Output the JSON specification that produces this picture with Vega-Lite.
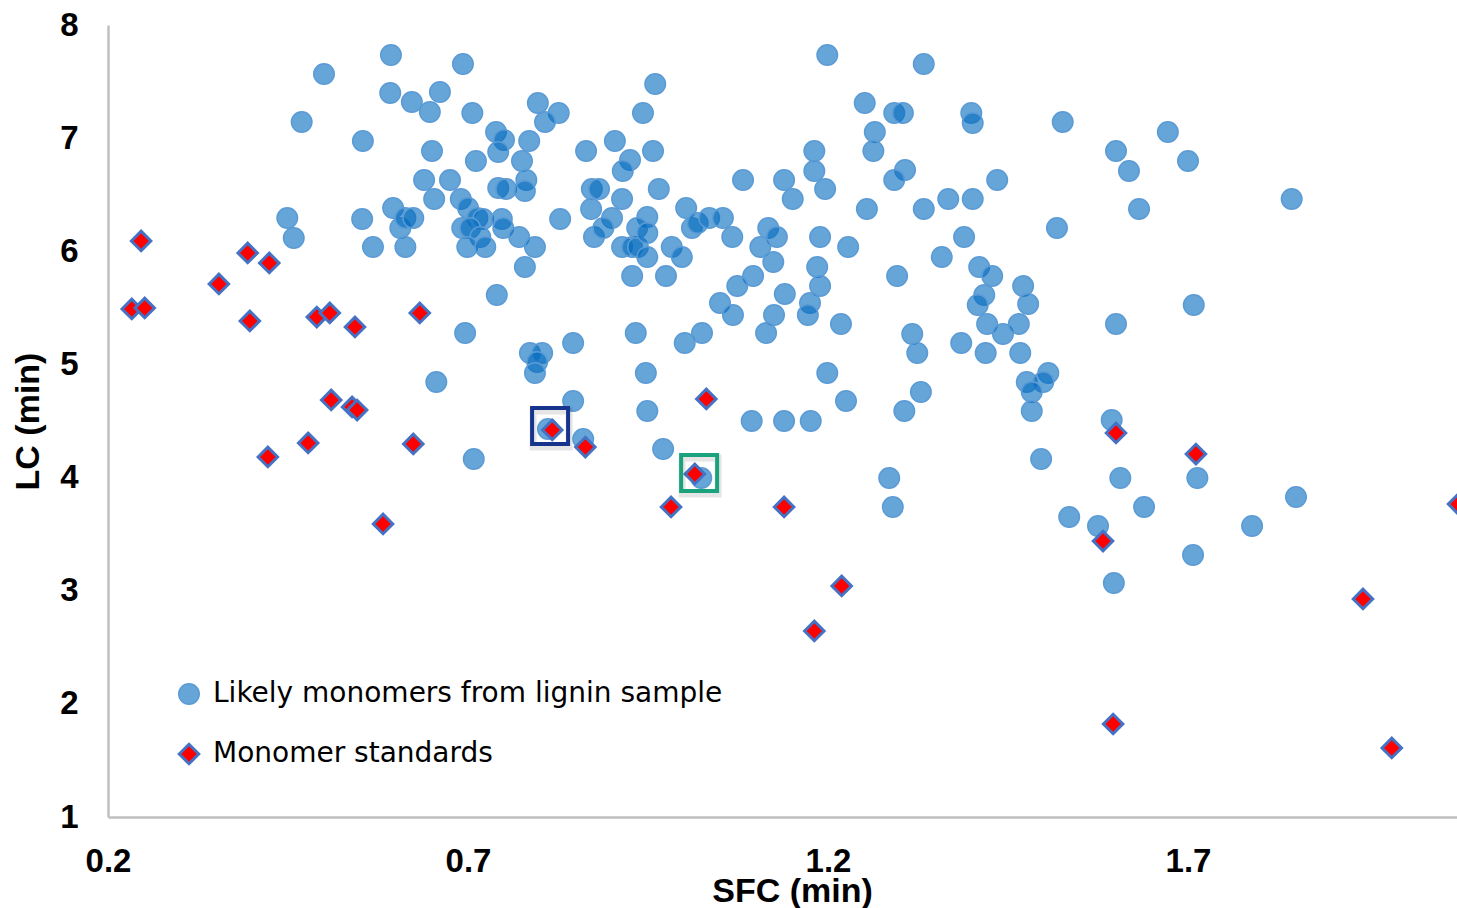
{
  "$schema": "https://vega.github.io/schema/vega-lite/v6.json",
  "width": 1349,
  "height": 792,
  "autosize": {"type": "none"},
  "padding": {"left": 108, "top": 25, "right": 0, "bottom": 91},
  "background": "white",
  "config": {"view": {"stroke": null}, "font": "Liberation Sans"},
  "data": {
    "values": [
      {"SFC":0.593,"LC":7.735,"series":"Likely monomers from lignin sample"},
      {"SFC":0.500,"LC":7.567,"series":"Likely monomers from lignin sample"},
      {"SFC":0.592,"LC":7.399,"series":"Likely monomers from lignin sample"},
      {"SFC":0.622,"LC":7.320,"series":"Likely monomers from lignin sample"},
      {"SFC":0.647,"LC":7.231,"series":"Likely monomers from lignin sample"},
      {"SFC":0.661,"LC":7.408,"series":"Likely monomers from lignin sample"},
      {"SFC":0.469,"LC":7.143,"series":"Likely monomers from lignin sample"},
      {"SFC":0.554,"LC":6.975,"series":"Likely monomers from lignin sample"},
      {"SFC":0.650,"LC":6.887,"series":"Likely monomers from lignin sample"},
      {"SFC":0.639,"LC":6.630,"series":"Likely monomers from lignin sample"},
      {"SFC":0.675,"LC":6.630,"series":"Likely monomers from lignin sample"},
      {"SFC":0.653,"LC":6.462,"series":"Likely monomers from lignin sample"},
      {"SFC":0.449,"LC":6.294,"series":"Likely monomers from lignin sample"},
      {"SFC":0.458,"LC":6.118,"series":"Likely monomers from lignin sample"},
      {"SFC":0.553,"LC":6.286,"series":"Likely monomers from lignin sample"},
      {"SFC":0.596,"LC":6.383,"series":"Likely monomers from lignin sample"},
      {"SFC":0.606,"LC":6.206,"series":"Likely monomers from lignin sample"},
      {"SFC":0.613,"LC":6.294,"series":"Likely monomers from lignin sample"},
      {"SFC":0.624,"LC":6.294,"series":"Likely monomers from lignin sample"},
      {"SFC":0.568,"LC":6.038,"series":"Likely monomers from lignin sample"},
      {"SFC":0.613,"LC":6.038,"series":"Likely monomers from lignin sample"},
      {"SFC":0.693,"LC":7.655,"series":"Likely monomers from lignin sample"},
      {"SFC":0.706,"LC":7.222,"series":"Likely monomers from lignin sample"},
      {"SFC":0.797,"LC":7.311,"series":"Likely monomers from lignin sample"},
      {"SFC":0.826,"LC":7.222,"series":"Likely monomers from lignin sample"},
      {"SFC":0.807,"LC":7.143,"series":"Likely monomers from lignin sample"},
      {"SFC":0.739,"LC":7.054,"series":"Likely monomers from lignin sample"},
      {"SFC":0.750,"LC":6.984,"series":"Likely monomers from lignin sample"},
      {"SFC":0.742,"LC":6.878,"series":"Likely monomers from lignin sample"},
      {"SFC":0.785,"LC":6.975,"series":"Likely monomers from lignin sample"},
      {"SFC":0.775,"LC":6.798,"series":"Likely monomers from lignin sample"},
      {"SFC":0.711,"LC":6.798,"series":"Likely monomers from lignin sample"},
      {"SFC":0.690,"LC":6.462,"series":"Likely monomers from lignin sample"},
      {"SFC":0.742,"LC":6.559,"series":"Likely monomers from lignin sample"},
      {"SFC":0.753,"LC":6.551,"series":"Likely monomers from lignin sample"},
      {"SFC":0.781,"LC":6.630,"series":"Likely monomers from lignin sample"},
      {"SFC":0.779,"LC":6.533,"series":"Likely monomers from lignin sample"},
      {"SFC":0.700,"LC":6.383,"series":"Likely monomers from lignin sample"},
      {"SFC":0.713,"LC":6.294,"series":"Likely monomers from lignin sample"},
      {"SFC":0.721,"LC":6.286,"series":"Likely monomers from lignin sample"},
      {"SFC":0.692,"LC":6.206,"series":"Likely monomers from lignin sample"},
      {"SFC":0.703,"LC":6.206,"series":"Likely monomers from lignin sample"},
      {"SFC":0.717,"LC":6.126,"series":"Likely monomers from lignin sample"},
      {"SFC":0.699,"LC":6.038,"series":"Likely monomers from lignin sample"},
      {"SFC":0.724,"LC":6.038,"series":"Likely monomers from lignin sample"},
      {"SFC":0.747,"LC":6.286,"series":"Likely monomers from lignin sample"},
      {"SFC":0.749,"LC":6.206,"series":"Likely monomers from lignin sample"},
      {"SFC":0.771,"LC":6.126,"series":"Likely monomers from lignin sample"},
      {"SFC":0.793,"LC":6.038,"series":"Likely monomers from lignin sample"},
      {"SFC":0.779,"LC":5.861,"series":"Likely monomers from lignin sample"},
      {"SFC":0.740,"LC":5.614,"series":"Likely monomers from lignin sample"},
      {"SFC":0.828,"LC":6.286,"series":"Likely monomers from lignin sample"},
      {"SFC":0.864,"LC":6.887,"series":"Likely monomers from lignin sample"},
      {"SFC":0.904,"LC":6.975,"series":"Likely monomers from lignin sample"},
      {"SFC":0.925,"LC":6.807,"series":"Likely monomers from lignin sample"},
      {"SFC":0.915,"LC":6.710,"series":"Likely monomers from lignin sample"},
      {"SFC":0.957,"LC":6.887,"series":"Likely monomers from lignin sample"},
      {"SFC":0.943,"LC":7.222,"series":"Likely monomers from lignin sample"},
      {"SFC":0.960,"LC":7.479,"series":"Likely monomers from lignin sample"},
      {"SFC":0.872,"LC":6.551,"series":"Likely monomers from lignin sample"},
      {"SFC":0.882,"LC":6.551,"series":"Likely monomers from lignin sample"},
      {"SFC":0.871,"LC":6.374,"series":"Likely monomers from lignin sample"},
      {"SFC":0.914,"LC":6.462,"series":"Likely monomers from lignin sample"},
      {"SFC":0.965,"LC":6.551,"series":"Likely monomers from lignin sample"},
      {"SFC":0.900,"LC":6.294,"series":"Likely monomers from lignin sample"},
      {"SFC":0.875,"LC":6.126,"series":"Likely monomers from lignin sample"},
      {"SFC":0.888,"LC":6.206,"series":"Likely monomers from lignin sample"},
      {"SFC":0.914,"LC":6.038,"series":"Likely monomers from lignin sample"},
      {"SFC":0.928,"LC":6.038,"series":"Likely monomers from lignin sample"},
      {"SFC":0.936,"LC":6.038,"series":"Likely monomers from lignin sample"},
      {"SFC":0.949,"LC":6.303,"series":"Likely monomers from lignin sample"},
      {"SFC":0.935,"LC":6.206,"series":"Likely monomers from lignin sample"},
      {"SFC":0.949,"LC":6.162,"series":"Likely monomers from lignin sample"},
      {"SFC":0.949,"LC":5.950,"series":"Likely monomers from lignin sample"},
      {"SFC":0.928,"LC":5.782,"series":"Likely monomers from lignin sample"},
      {"SFC":0.975,"LC":5.782,"series":"Likely monomers from lignin sample"},
      {"SFC":0.983,"LC":6.038,"series":"Likely monomers from lignin sample"},
      {"SFC":0.997,"LC":5.950,"series":"Likely monomers from lignin sample"},
      {"SFC":1.003,"LC":6.383,"series":"Likely monomers from lignin sample"},
      {"SFC":1.011,"LC":6.206,"series":"Likely monomers from lignin sample"},
      {"SFC":1.019,"LC":6.250,"series":"Likely monomers from lignin sample"},
      {"SFC":1.035,"LC":6.294,"series":"Likely monomers from lignin sample"},
      {"SFC":1.054,"LC":6.294,"series":"Likely monomers from lignin sample"},
      {"SFC":1.067,"LC":6.126,"series":"Likely monomers from lignin sample"},
      {"SFC":1.082,"LC":6.630,"series":"Likely monomers from lignin sample"},
      {"SFC":1.139,"LC":6.630,"series":"Likely monomers from lignin sample"},
      {"SFC":1.151,"LC":6.462,"series":"Likely monomers from lignin sample"},
      {"SFC":1.117,"LC":6.206,"series":"Likely monomers from lignin sample"},
      {"SFC":1.129,"LC":6.126,"series":"Likely monomers from lignin sample"},
      {"SFC":1.106,"LC":6.038,"series":"Likely monomers from lignin sample"},
      {"SFC":1.124,"LC":5.905,"series":"Likely monomers from lignin sample"},
      {"SFC":1.096,"LC":5.782,"series":"Likely monomers from lignin sample"},
      {"SFC":1.074,"LC":5.693,"series":"Likely monomers from lignin sample"},
      {"SFC":1.140,"LC":5.623,"series":"Likely monomers from lignin sample"},
      {"SFC":1.050,"LC":5.543,"series":"Likely monomers from lignin sample"},
      {"SFC":1.199,"LC":7.735,"series":"Likely monomers from lignin sample"},
      {"SFC":1.333,"LC":7.655,"series":"Likely monomers from lignin sample"},
      {"SFC":1.251,"LC":7.311,"series":"Likely monomers from lignin sample"},
      {"SFC":1.292,"LC":7.222,"series":"Likely monomers from lignin sample"},
      {"SFC":1.304,"LC":7.222,"series":"Likely monomers from lignin sample"},
      {"SFC":1.399,"LC":7.222,"series":"Likely monomers from lignin sample"},
      {"SFC":1.401,"LC":7.134,"series":"Likely monomers from lignin sample"},
      {"SFC":1.526,"LC":7.143,"series":"Likely monomers from lignin sample"},
      {"SFC":1.265,"LC":7.054,"series":"Likely monomers from lignin sample"},
      {"SFC":1.263,"LC":6.887,"series":"Likely monomers from lignin sample"},
      {"SFC":1.181,"LC":6.887,"series":"Likely monomers from lignin sample"},
      {"SFC":1.181,"LC":6.710,"series":"Likely monomers from lignin sample"},
      {"SFC":1.196,"LC":6.551,"series":"Likely monomers from lignin sample"},
      {"SFC":1.307,"LC":6.719,"series":"Likely monomers from lignin sample"},
      {"SFC":1.292,"LC":6.630,"series":"Likely monomers from lignin sample"},
      {"SFC":1.254,"LC":6.374,"series":"Likely monomers from lignin sample"},
      {"SFC":1.333,"LC":6.374,"series":"Likely monomers from lignin sample"},
      {"SFC":1.367,"LC":6.462,"series":"Likely monomers from lignin sample"},
      {"SFC":1.401,"LC":6.462,"series":"Likely monomers from lignin sample"},
      {"SFC":1.435,"LC":6.630,"series":"Likely monomers from lignin sample"},
      {"SFC":1.600,"LC":6.887,"series":"Likely monomers from lignin sample"},
      {"SFC":1.618,"LC":6.710,"series":"Likely monomers from lignin sample"},
      {"SFC":1.518,"LC":6.206,"series":"Likely monomers from lignin sample"},
      {"SFC":1.189,"LC":6.126,"series":"Likely monomers from lignin sample"},
      {"SFC":1.228,"LC":6.038,"series":"Likely monomers from lignin sample"},
      {"SFC":1.185,"LC":5.861,"series":"Likely monomers from lignin sample"},
      {"SFC":1.189,"LC":5.693,"series":"Likely monomers from lignin sample"},
      {"SFC":1.175,"LC":5.543,"series":"Likely monomers from lignin sample"},
      {"SFC":1.296,"LC":5.782,"series":"Likely monomers from lignin sample"},
      {"SFC":1.358,"LC":5.950,"series":"Likely monomers from lignin sample"},
      {"SFC":1.389,"LC":6.126,"series":"Likely monomers from lignin sample"},
      {"SFC":1.410,"LC":5.861,"series":"Likely monomers from lignin sample"},
      {"SFC":1.428,"LC":5.782,"series":"Likely monomers from lignin sample"},
      {"SFC":1.471,"LC":5.693,"series":"Likely monomers from lignin sample"},
      {"SFC":1.417,"LC":5.614,"series":"Likely monomers from lignin sample"},
      {"SFC":1.478,"LC":5.534,"series":"Likely monomers from lignin sample"},
      {"SFC":1.672,"LC":7.054,"series":"Likely monomers from lignin sample"},
      {"SFC":1.700,"LC":6.798,"series":"Likely monomers from lignin sample"},
      {"SFC":1.632,"LC":6.374,"series":"Likely monomers from lignin sample"},
      {"SFC":1.844,"LC":6.462,"series":"Likely monomers from lignin sample"},
      {"SFC":0.656,"LC":4.845,"series":"Likely monomers from lignin sample"},
      {"SFC":0.696,"LC":5.278,"series":"Likely monomers from lignin sample"},
      {"SFC":0.786,"LC":5.101,"series":"Likely monomers from lignin sample"},
      {"SFC":0.803,"LC":5.101,"series":"Likely monomers from lignin sample"},
      {"SFC":0.796,"LC":5.022,"series":"Likely monomers from lignin sample"},
      {"SFC":0.793,"LC":4.924,"series":"Likely monomers from lignin sample"},
      {"SFC":0.846,"LC":5.190,"series":"Likely monomers from lignin sample"},
      {"SFC":0.846,"LC":4.677,"series":"Likely monomers from lignin sample"},
      {"SFC":0.811,"LC":4.429,"series":"Likely monomers from lignin sample"},
      {"SFC":0.860,"LC":4.341,"series":"Likely monomers from lignin sample"},
      {"SFC":0.708,"LC":4.164,"series":"Likely monomers from lignin sample"},
      {"SFC":0.933,"LC":5.278,"series":"Likely monomers from lignin sample"},
      {"SFC":0.947,"LC":4.924,"series":"Likely monomers from lignin sample"},
      {"SFC":0.949,"LC":4.588,"series":"Likely monomers from lignin sample"},
      {"SFC":0.971,"LC":4.253,"series":"Likely monomers from lignin sample"},
      {"SFC":1.001,"LC":5.190,"series":"Likely monomers from lignin sample"},
      {"SFC":1.025,"LC":5.278,"series":"Likely monomers from lignin sample"},
      {"SFC":1.068,"LC":5.437,"series":"Likely monomers from lignin sample"},
      {"SFC":1.125,"LC":5.437,"series":"Likely monomers from lignin sample"},
      {"SFC":1.114,"LC":5.278,"series":"Likely monomers from lignin sample"},
      {"SFC":1.094,"LC":4.500,"series":"Likely monomers from lignin sample"},
      {"SFC":1.139,"LC":4.500,"series":"Likely monomers from lignin sample"},
      {"SFC":1.024,"LC":3.996,"series":"Likely monomers from lignin sample"},
      {"SFC":1.172,"LC":5.437,"series":"Likely monomers from lignin sample"},
      {"SFC":1.218,"LC":5.357,"series":"Likely monomers from lignin sample"},
      {"SFC":1.317,"LC":5.269,"series":"Likely monomers from lignin sample"},
      {"SFC":1.324,"LC":5.101,"series":"Likely monomers from lignin sample"},
      {"SFC":1.385,"LC":5.190,"series":"Likely monomers from lignin sample"},
      {"SFC":1.408,"LC":5.525,"series":"Likely monomers from lignin sample"},
      {"SFC":1.421,"LC":5.357,"series":"Likely monomers from lignin sample"},
      {"SFC":1.443,"LC":5.269,"series":"Likely monomers from lignin sample"},
      {"SFC":1.465,"LC":5.357,"series":"Likely monomers from lignin sample"},
      {"SFC":1.419,"LC":5.101,"series":"Likely monomers from lignin sample"},
      {"SFC":1.467,"LC":5.101,"series":"Likely monomers from lignin sample"},
      {"SFC":1.600,"LC":5.357,"series":"Likely monomers from lignin sample"},
      {"SFC":1.199,"LC":4.924,"series":"Likely monomers from lignin sample"},
      {"SFC":1.225,"LC":4.677,"series":"Likely monomers from lignin sample"},
      {"SFC":1.329,"LC":4.756,"series":"Likely monomers from lignin sample"},
      {"SFC":1.306,"LC":4.588,"series":"Likely monomers from lignin sample"},
      {"SFC":1.476,"LC":4.845,"series":"Likely monomers from lignin sample"},
      {"SFC":1.506,"LC":4.924,"series":"Likely monomers from lignin sample"},
      {"SFC":1.499,"LC":4.845,"series":"Likely monomers from lignin sample"},
      {"SFC":1.483,"LC":4.756,"series":"Likely monomers from lignin sample"},
      {"SFC":1.483,"LC":4.588,"series":"Likely monomers from lignin sample"},
      {"SFC":1.176,"LC":4.500,"series":"Likely monomers from lignin sample"},
      {"SFC":1.285,"LC":3.996,"series":"Likely monomers from lignin sample"},
      {"SFC":1.290,"LC":3.740,"series":"Likely monomers from lignin sample"},
      {"SFC":1.496,"LC":4.164,"series":"Likely monomers from lignin sample"},
      {"SFC":1.594,"LC":4.509,"series":"Likely monomers from lignin sample"},
      {"SFC":1.606,"LC":3.996,"series":"Likely monomers from lignin sample"},
      {"SFC":1.535,"LC":3.652,"series":"Likely monomers from lignin sample"},
      {"SFC":1.575,"LC":3.572,"series":"Likely monomers from lignin sample"},
      {"SFC":1.708,"LC":5.525,"series":"Likely monomers from lignin sample"},
      {"SFC":1.713,"LC":3.996,"series":"Likely monomers from lignin sample"},
      {"SFC":1.639,"LC":3.740,"series":"Likely monomers from lignin sample"},
      {"SFC":1.850,"LC":3.828,"series":"Likely monomers from lignin sample"},
      {"SFC":1.789,"LC":3.572,"series":"Likely monomers from lignin sample"},
      {"SFC":1.707,"LC":3.316,"series":"Likely monomers from lignin sample"},
      {"SFC":1.597,"LC":3.068,"series":"Likely monomers from lignin sample"},
      {"SFC":0.246,"LC":6.091,"series":"Monomer standards"},
      {"SFC":0.394,"LC":5.985,"series":"Monomer standards"},
      {"SFC":0.424,"LC":5.897,"series":"Monomer standards"},
      {"SFC":0.354,"LC":5.711,"series":"Monomer standards"},
      {"SFC":0.233,"LC":5.490,"series":"Monomer standards"},
      {"SFC":0.251,"LC":5.499,"series":"Monomer standards"},
      {"SFC":0.397,"LC":5.384,"series":"Monomer standards"},
      {"SFC":0.490,"LC":5.419,"series":"Monomer standards"},
      {"SFC":0.508,"LC":5.455,"series":"Monomer standards"},
      {"SFC":0.543,"LC":5.331,"series":"Monomer standards"},
      {"SFC":0.633,"LC":5.455,"series":"Monomer standards"},
      {"SFC":0.510,"LC":4.686,"series":"Monomer standards"},
      {"SFC":0.539,"LC":4.624,"series":"Monomer standards"},
      {"SFC":0.546,"LC":4.597,"series":"Monomer standards"},
      {"SFC":0.478,"LC":4.306,"series":"Monomer standards"},
      {"SFC":0.624,"LC":4.297,"series":"Monomer standards"},
      {"SFC":0.422,"LC":4.182,"series":"Monomer standards"},
      {"SFC":0.582,"LC":3.590,"series":"Monomer standards"},
      {"SFC":0.817,"LC":4.421,"series":"Monomer standards"},
      {"SFC":0.863,"LC":4.270,"series":"Monomer standards"},
      {"SFC":1.031,"LC":4.695,"series":"Monomer standards"},
      {"SFC":1.015,"LC":4.032,"series":"Monomer standards"},
      {"SFC":0.982,"LC":3.740,"series":"Monomer standards"},
      {"SFC":1.139,"LC":3.740,"series":"Monomer standards"},
      {"SFC":1.219,"LC":3.042,"series":"Monomer standards"},
      {"SFC":1.181,"LC":2.644,"series":"Monomer standards"},
      {"SFC":1.600,"LC":4.394,"series":"Monomer standards"},
      {"SFC":1.582,"LC":3.439,"series":"Monomer standards"},
      {"SFC":1.711,"LC":4.208,"series":"Monomer standards"},
      {"SFC":1.596,"LC":1.822,"series":"Monomer standards"},
      {"SFC":1.943,"LC":2.927,"series":"Monomer standards"},
      {"SFC":1.983,"LC":1.610,"series":"Monomer standards"},
      {"SFC":2.075,"LC":3.766,"series":"Monomer standards"}
    ]
  },
  "layer": [
    {
      "mark": {"type": "point", "filled": true, "opacity": 1, "clip": true},
      "encoding": {
        "x": {
          "field": "SFC",
          "type": "quantitative",
          "scale": {"domain": [0.2, 2.0736], "nice": false, "zero": false},
          "axis": {
            "title": "SFC (min)",
            "values": [0.2, 0.7, 1.2, 1.7],
            "format": ".1f",
            "grid": false,
            "ticks": false,
            "tickSize": 0,
            "domainColor": "#BFBFBF",
            "domainWidth": 2.5,
            "labelFont": "Liberation Sans",
            "labelFontSize": 33,
            "labelFontWeight": "bold",
            "labelColor": "#000000",
            "labelPadding": 54,
            "labelBaseline": "alphabetic",
            "labelFlush": false,
            "labelOverlap": false,
            "titleFont": "Liberation Sans",
            "titleFontSize": 34,
            "titleFontWeight": "bold",
            "titleColor": "#000000",
            "titleX": 684,
            "titleY": 84,
            "titleAlign": "center",
            "titleBaseline": "alphabetic"
          }
        },
        "y": {
          "field": "LC",
          "type": "quantitative",
          "scale": {"domain": [1, 8], "nice": false, "zero": false},
          "axis": {
            "title": "LC (min)",
            "values": [1, 2, 3, 4, 5, 6, 7, 8],
            "format": "d",
            "grid": false,
            "ticks": false,
            "tickSize": 0,
            "domainColor": "#BFBFBF",
            "domainWidth": 2.5,
            "labelFont": "Liberation Sans",
            "labelFontSize": 33,
            "labelFontWeight": "bold",
            "labelColor": "#000000",
            "labelPadding": 30,
            "labelFlush": false,
            "labelOverlap": false,
            "titleFont": "Liberation Sans",
            "titleFontSize": 34,
            "titleFontWeight": "bold",
            "titleColor": "#000000",
            "titleAngle": 270,
            "titleX": -70,
            "titleY": 396,
            "titleAlign": "center",
            "titleBaseline": "alphabetic"
          }
        },
        "shape": {
          "field": "series",
          "type": "nominal",
          "scale": {"domain": ["Likely monomers from lignin sample", "Monomer standards"], "range": ["circle", "diamond"]},
          "legend": null
        },
        "fill": {
          "field": "series",
          "type": "nominal",
          "scale": {"domain": ["Likely monomers from lignin sample", "Monomer standards"], "range": ["#0069BE", "#FF0000"]},
          "legend": null
        },
        "stroke": {
          "field": "series",
          "type": "nominal",
          "scale": {"domain": ["Likely monomers from lignin sample", "Monomer standards"], "range": ["#5B9BD5", "#4472C4"]},
          "legend": null
        },
        "fillOpacity": {
          "field": "series",
          "type": "ordinal",
          "scale": {"domain": ["Likely monomers from lignin sample", "Monomer standards"], "range": [0.6, 1]},
          "legend": null
        },
        "strokeWidth": {
          "field": "series",
          "type": "ordinal",
          "scale": {"domain": ["Likely monomers from lignin sample", "Monomer standards"], "range": [1.5, 3]},
          "legend": null
        },
        "size": {
          "field": "series",
          "type": "ordinal",
          "scale": {"domain": ["Likely monomers from lignin sample", "Monomer standards"], "range": [420, 380]},
          "legend": null
        }
      }
    },
    {
      "transform": [{"filter": "false"}],
      "mark": {"type": "point", "filled": true, "opacity": 1},
      "encoding": {
        "x": {"field": "SFC", "type": "quantitative"},
        "y": {"field": "LC", "type": "quantitative"},
        "shape": {
          "field": "series",
          "type": "nominal",
          "scale": {"domain": ["Likely monomers from lignin sample", "Monomer standards"], "range": ["circle", "diamond"]}
        },
        "fill": {
          "field": "series",
          "type": "nominal",
          "scale": {"domain": ["Likely monomers from lignin sample", "Monomer standards"], "range": ["#66A5D8", "#FF0000"]},
          "legend": {
            "title": null,
            "orient": "none",
            "legendX": 67,
            "legendY": 655,
            "direction": "vertical",
            "padding": 0,
            "offset": 0,
            "rowPadding": 30,
            "labelFont": "DejaVu Sans",
            "labelFontSize": 28,
            "labelFontWeight": "normal",
            "labelColor": "#000000",
            "labelOffset": 10,
            "labelLimit": 1000
          }
        },
        "stroke": {
          "field": "series",
          "type": "nominal",
          "scale": {"domain": ["Likely monomers from lignin sample", "Monomer standards"], "range": ["#5B9BD5", "#4472C4"]}
        },
        "strokeWidth": {
          "field": "series",
          "type": "ordinal",
          "scale": {"domain": ["Likely monomers from lignin sample", "Monomer standards"], "range": [1.5, 3]}
        },
        "size": {
          "field": "series",
          "type": "ordinal",
          "scale": {"domain": ["Likely monomers from lignin sample", "Monomer standards"], "range": [420, 380]}
        }
      }
    },
    {
      "data": {"values": [{"SFC": 0.814, "LC": 4.456}, {"SFC": 1.021, "LC": 4.04}]},
      "mark": {"type": "square", "filled": false, "opacity": 1, "stroke": "#000000", "strokeOpacity": 0.1, "strokeWidth": 7, "size": 1296, "xOffset": 1, "yOffset": 3},
      "encoding": {
        "x": {"field": "SFC", "type": "quantitative"},
        "y": {"field": "LC", "type": "quantitative"}
      }
    },
    {
      "data": {"values": [{"SFC": 0.814, "LC": 4.456}]},
      "mark": {"type": "square", "filled": false, "opacity": 1, "stroke": "#17348C", "strokeWidth": 4, "size": 1296},
      "encoding": {
        "x": {"field": "SFC", "type": "quantitative"},
        "y": {"field": "LC", "type": "quantitative"}
      }
    },
    {
      "data": {"values": [{"SFC": 1.021, "LC": 4.04}]},
      "mark": {"type": "square", "filled": false, "opacity": 1, "stroke": "#19A27B", "strokeWidth": 4, "size": 1296},
      "encoding": {
        "x": {"field": "SFC", "type": "quantitative"},
        "y": {"field": "LC", "type": "quantitative"}
      }
    }
  ],
  "resolve": {
    "scale": {
      "shape": "independent",
      "fill": "independent",
      "stroke": "independent",
      "strokeWidth": "independent",
      "size": "independent",
      "fillOpacity": "independent"
    }
  }
}
